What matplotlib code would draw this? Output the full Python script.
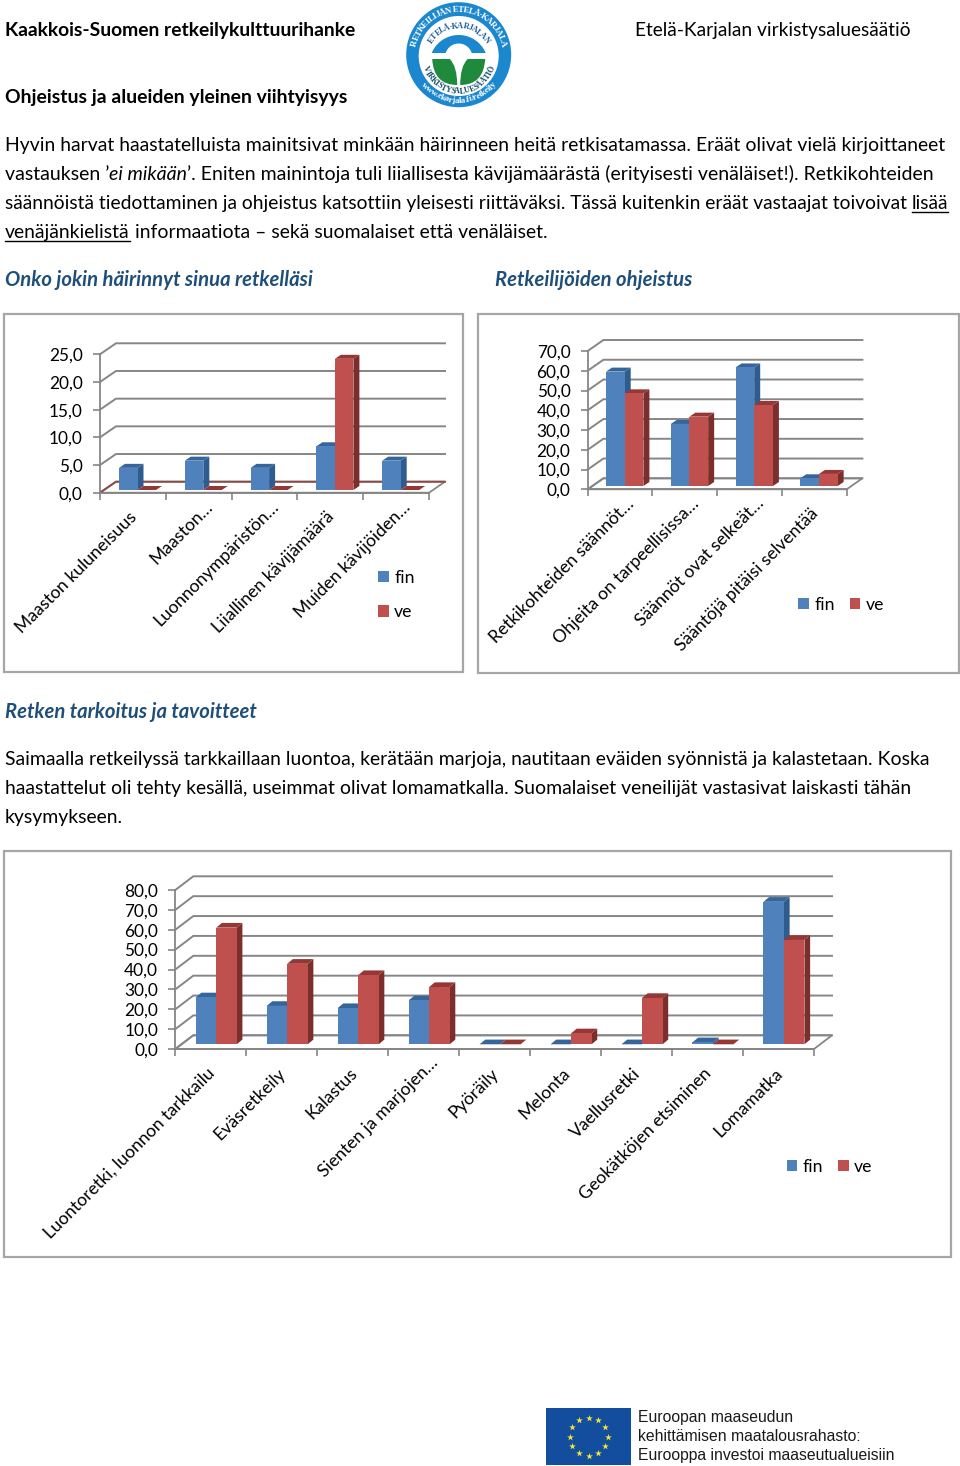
import numpy as np
import matplotlib
matplotlib.use("Agg")
import matplotlib.pyplot as plt
from matplotlib.patches import Polygon, Rectangle, Circle, PathPatch
from matplotlib.path import Path

# chart 1
hairio_cats = ["Maaston kuluneisuus", "Maaston…", "Luonnonympäristön…",
               "Liiallinen kävijämäärä", "Muiden kävijöiden…"]
hairio_fin = [4.0, 5.3, 4.0, 7.9, 5.3]
hairio_ve = [0.0, 0.0, 0.0, 23.7, 0.0]
hairio_ticks = [0, 5, 10, 15, 20, 25]
hairio_labels = ["0,0", "5,0", "10,0", "15,0", "20,0", "25,0"]

# chart 2
ohje_cats = ["Retkikohteiden säännöt…", "Ohjeita on tarpeellisissa…",
             "Säännöt ovat selkeät…", "Sääntöjä pitäisi selventää"]
ohje_fin = [57.9, 31.4, 60.0, 3.9]
ohje_ve = [46.9, 35.1, 41.0, 6.1]
ohje_ticks = [0, 10, 20, 30, 40, 50, 60, 70]
ohje_labels = ["0,0", "10,0", "20,0", "30,0", "40,0", "50,0", "60,0", "70,0"]

# chart 3
tark_cats = ["Luontoretki, luonnon tarkkailu", "Eväsretkeily", "Kalastus",
             "Sienten ja marjojen…", "Pyöräily", "Melonta", "Vaellusretki",
             "Geokätköjen etsiminen", "Lomamatka"]
tark_fin = [23.6, 19.3, 18.2, 22.1, 0.0, 0.0, 0.0, 1.0, 71.7]
tark_ve = [58.7, 40.5, 34.8, 28.8, 0.0, 5.5, 23.3, 0.0, 52.5]
tark_ticks = [0, 10, 20, 30, 40, 50, 60, 70, 80]
tark_labels = ["0,0", "10,0", "20,0", "30,0", "40,0", "50,0", "60,0", "70,0", "80,0"]

W, H = 960, 1466
BODY = "Lato"
BLUE, BLUE_S, BLUE_T = "#4F81BD", "#2F5C8F", "#36659C"
RED, RED_S, RED_T = "#C0504D", "#7B2E2C", "#963735"
GRID = "#868686"
HEAD = "#1F4E79"

fig = plt.figure(figsize=(W / 100, H / 100), dpi=100, facecolor="white")
page = fig.add_axes([0, 0, 1, 1], zorder=5)
page.set_xlim(0, W)
page.set_ylim(H, 0)
page.axis("off")
page.patch.set_alpha(0)
renderer = fig.canvas.get_renderer()


def measure(s, **kw):
    # wrap in x so that the spaces at the ends are counted
    a = page.text(0, 0, "x" + s + "x", **kw)
    b = page.text(0, 0, "xx", **kw)
    w = a.get_window_extent(renderer).width - b.get_window_extent(renderer).width
    a.remove()
    b.remove()
    return w


def line(x, y, runs, size=13.95, family=BODY, color="black"):
    for r in runs:
        if isinstance(r, str):
            r = (r, {})
        s, st = r
        st = dict(st)
        under = st.pop("under", False)
        kw = dict(fontsize=size, family=family, color=color, **st)
        page.text(x, y, s, va="baseline", ha="left", **kw)
        w = measure(s, **kw)
        if under:
            page.plot([x, x + w], [y + 3, y + 3], color=color, lw=1.0)
        x += w


def chart(box, geom, cats, fin, ve, ticks, labels, leg):
    # geom: front axis left, right, y of zero, y of top tick (pixels)
    left, right, y0, ytop = geom["axis"]
    n = len(cats)
    ax = fig.add_axes([left / W, 1 - y0 / H, (right - left) / W, (y0 - ytop) / H], zorder=2)
    ax.patch.set_alpha(0)
    ax.set_xlim(0, n)
    ax.set_ylim(0, ticks[-1])
    px_x = (right - left) / n
    px_y = (y0 - ytop) / ticks[-1]

    wx, wy = geom["wall"][0] / px_x, geom["wall"][1] / px_y
    bx, by = geom["depth"][0] / px_x, geom["depth"][1] / px_y
    off, bw = geom["bar"][0] / px_x, geom["bar"][1] / px_x
    lift = geom["lift"] / px_y

    # floor and back wall
    ax.add_patch(Polygon([(0, 0), (wx, wy), (n + wx, wy), (n, 0)], closed=True,
                         facecolor="white", edgecolor=GRID, lw=1.3, zorder=1, clip_on=False))
    for v in ticks:
        c = geom["floor"] if v == 0 else GRID
        ax.plot([0, wx, n + wx], [v, v + wy, v + wy], color=c, lw=1.4, zorder=1,
                clip_on=False, solid_joinstyle="miter")

    # bars: front from the axes, top and side as polygons behind it
    xs = np.arange(n)
    z = 3
    handles = []
    series = [(fin, 0, BLUE, BLUE_S, BLUE_T, "fin"), (ve, bw, RED, RED_S, RED_T, "ve")]
    for vals, shift, front, side, cap, name in series:
        lefts = xs + off + shift
        for xl, v in zip(lefts, vals):
            top = lift + v
            ax.add_patch(Polygon([(xl + bw, lift), (xl + bw + bx, lift + by), (xl + bw + bx, top + by), (xl + bw, top)],
                                 closed=True, facecolor=side, edgecolor="none", zorder=z, clip_on=False))
            ax.add_patch(Polygon([(xl, top), (xl + bx, top + by), (xl + bw + bx, top + by), (xl + bw, top)],
                                 closed=True, facecolor=cap, edgecolor="none", zorder=z, clip_on=False))
        bars = ax.bar(lefts, vals, width=bw, bottom=lift, align="edge", color=front,
                      edgecolor="none", zorder=z + 1, clip_on=False, label=name)
        handles.append(bars)
        z += 2

    for sp in ("top", "right"):
        ax.spines[sp].set_visible(False)
    for sp in ("left", "bottom"):
        ax.spines[sp].set_color(GRID)
        ax.spines[sp].set_linewidth(1.3)
        ax.spines[sp].set_zorder(2)

    ax.set_yticks(ticks, labels=labels)
    ax.tick_params(axis="y", length=5, width=1.2, color=GRID, pad=7.4, labelsize=12.4)
    ax.set_xticks(np.arange(n + 1), labels=[])
    ax.tick_params(axis="x", which="major", length=5, width=1.2, color=GRID)
    for t in ax.get_yticklabels():
        t.set_family(BODY)

    # category labels, the cut ones reach further up the slope
    for i, cat in enumerate(cats):
        cut = cat.endswith("…")
        ax.annotate(cat, xy=(i + 0.5, 0), xycoords=("data", "axes fraction"),
                    xytext=(6, -6) if cut else (-4, -16), textcoords="offset pixels",
                    rotation=45, rotation_mode="anchor", ha="right", va="top",
                    fontsize=12.7, family=BODY, annotation_clip=False)

    ax.legend(handles=handles, loc="center", bbox_to_anchor=(leg["xy"][0] / W, 1 - leg["xy"][1] / H),
              bbox_transform=fig.transFigure, ncol=leg["ncol"], frameon=False,
              prop={"family": BODY, "size": 12.7}, handlelength=0.6, handleheight=0.6,
              handletextpad=0.3, columnspacing=0.85, labelspacing=1.05, borderpad=0)

    x0, y1, x1, y2 = box
    page.add_patch(Rectangle((x0, y1), x1 - x0, y2 - y1, facecolor="none", edgecolor="#A6A6A6", lw=1.6))


def arc_text(s, cx, cy, r, a_mid, size, color, bottom=False, track=0.9):
    kw = dict(fontsize=size, family="Liberation Serif", fontweight="bold", color=color)
    widths = [measure(ch, **kw) * track for ch in s]
    pos = np.cumsum([0] + widths[:-1]) + np.array(widths) / 2 - sum(widths) / 2
    for ch, p in zip(s, pos):
        da = np.degrees(p / r)
        a = a_mid + da if bottom else a_mid - da
        rot = a + 90 if bottom else a - 90
        page.text(cx + r * np.cos(np.radians(a)), cy - r * np.sin(np.radians(a)), ch,
                  rotation=rot, rotation_mode="anchor", ha="center", va="center", **kw)


def segment(cx, ybase, half, height):
    # circle segment standing on y = ybase, in pixels
    r = (half ** 2 + height ** 2) / (2 * height)
    yc = ybase - height + r
    a = np.linspace(np.arctan2(r - height, -half), np.arctan2(r - height, half), 40)
    return np.column_stack([cx + r * np.cos(a), yc - r * np.sin(a)])


def logo(cx, cy):
    lb = "#1B87CF"
    gr = "#1F8A3B"
    page.add_patch(Circle((cx, cy), 52.5, facecolor=lb, edgecolor="none"))
    page.add_patch(Circle((cx, cy + 1.3), 40, facecolor="white", edgecolor="none"))
    page.add_patch(Polygon(segment(cx, 53, 27, 18), closed=True, facecolor=lb, edgecolor="none"))
    page.add_patch(Polygon(segment(cx, 53, 13, 9.5), closed=True, facecolor="white", edgecolor="none"))
    for sgn in (-1, 1):
        verts = [(cx + sgn * 26.5, 59), (cx + sgn * 9, 59), (cx + sgn * 1.5, 66), (cx + sgn * 1.5, 85),
                 (cx + sgn * 25, 85), (cx + sgn * 26.5, 59)]
        codes = [Path.MOVETO, Path.LINETO, Path.CURVE3, Path.CURVE3, Path.CURVE3, Path.CURVE3]
        page.add_patch(PathPatch(Path(verts, codes), facecolor=gr, edgecolor="none"))
    arc_text("RETKEILIJÄN ETELÄ-KARJALA", cx, cy, 45, 90, 6.3, "white")
    arc_text("www.ekarjala.fi/retkeily", cx, cy, 46, 270, 6.3, "white", bottom=True)
    arc_text("ETELÄ-KARJALAN", cx, cy + 5, 33.5, 90, 5.9, "#1B5E9E")
    arc_text("VIRKISTYSALUESÄÄTIÖ", cx, cy + 1.3, 35.5, 270, 5.9, "#17506B", bottom=True)


def eu_flag(x0, y0, x1, y1):
    page.add_patch(Rectangle((x0, y0), x1 - x0, y1 - y0, facecolor="#124D9E", edgecolor="none"))
    cx, cy = (x0 + x1) / 2, (y0 + y1) / 2
    ang = np.radians(np.arange(0, 360, 30))
    page.scatter(cx + 19 * np.cos(ang), cy + 19 * np.sin(ang), marker="*", s=26,
                 color="#F5E33A", linewidths=0, zorder=6)


# header
bold = {"fontweight": "bold"}
ital = {"fontstyle": "italic"}
und = {"under": True}
head = {"fontweight": "bold", "fontstyle": "italic"}
line(5, 36, [("Kaakkois-Suomen retkeilykulttuurihanke", bold)], size=13.85)
line(635, 36, ["Etelä-Karjalan virkistysaluesäätiö"], size=13.75)
line(5, 103, [("Ohjeistus ja alueiden yleinen viihtyisyys", bold)], size=13.95)
logo(458.7, 54.7)

# text block 1
line(5, 151, ["Hyvin harvat haastatelluista mainitsivat minkään häirinneen heitä retkisatamassa. Eräät olivat vielä kirjoittaneet"], size=13.92)
line(5, 180, ["vastauksen ’", ("ei mikään", ital), "’. Eniten mainintoja tuli liiallisesta kävijämäärästä (erityisesti venäläiset!). Retkikohteiden"], size=14.07)
line(5, 209, ["säännöistä tiedottaminen ja ohjeistus katsottiin yleisesti riittäväksi. Tässä kuitenkin eräät vastaajat toivoivat ", ("lisää", und)], size=13.87)
line(5, 238, [("venäjänkielistä", und), " informaatiota – sekä suomalaiset että venäläiset."])

line(5, 286, [("Onko jokin häirinnyt sinua retkelläsi", head)], size=14.6, color=HEAD)
line(495, 286, [("Retkeilijöiden ohjeistus", head)], size=14.6, color=HEAD)

chart((4, 314, 463, 672),
      {"axis": (100, 429, 492.7, 354.3), "wall": (16, 11), "depth": (6, 4), "bar": (19, 18.5),
       "lift": 2.7, "floor": "#8B4A48"},
      hairio_cats, hairio_fin, hairio_ve, hairio_ticks, hairio_labels,
      {"xy": (396.5, 595), "ncol": 1})
chart((478, 314, 959, 673),
      {"axis": (587.7, 846.7, 489.3, 351), "wall": (15.7, 11), "depth": (6, 4), "bar": (18.3, 18.7),
       "lift": 3.3, "floor": GRID},
      ohje_cats, ohje_fin, ohje_ve, ohje_ticks, ohje_labels,
      {"xy": (841, 605), "ncol": 2})

line(5, 718, [("Retken tarkoitus ja tavoitteet", head)], size=14.6, color=HEAD)
line(5, 765, ["Saimaalla retkeilyssä tarkkaillaan luontoa, kerätään marjoja, nautitaan eväiden syönnistä ja kalastetaan. Koska"])
line(5, 794, ["haastattelut oli tehty kesällä, useimmat olivat lomamatkalla. Suomalaiset veneilijät vastasivat laiskasti tähän"])
line(5, 823, ["kysymykseen."])

chart((4, 851, 951, 1257),
      {"axis": (175.3, 814, 1049, 890), "wall": (18, 13.7), "depth": (5.7, 4.7), "bar": (20.4, 20.5),
       "lift": 4.7, "floor": GRID},
      tark_cats, tark_fin, tark_ve, tark_ticks, tark_labels,
      {"xy": (829.5, 1167), "ncol": 2})

# footer
eu_flag(546, 1408, 631, 1465)
for yy, s in [(1422, "Euroopan maaseudun"), (1441, "kehittämisen maatalousrahasto:"),
              (1460, "Eurooppa investoi maaseutualueisiin")]:
    page.text(638, yy, s, fontsize=11.3, family="Liberation Sans", color="#1A1A1A", va="baseline")

fig.savefig("out.png", dpi=100)
